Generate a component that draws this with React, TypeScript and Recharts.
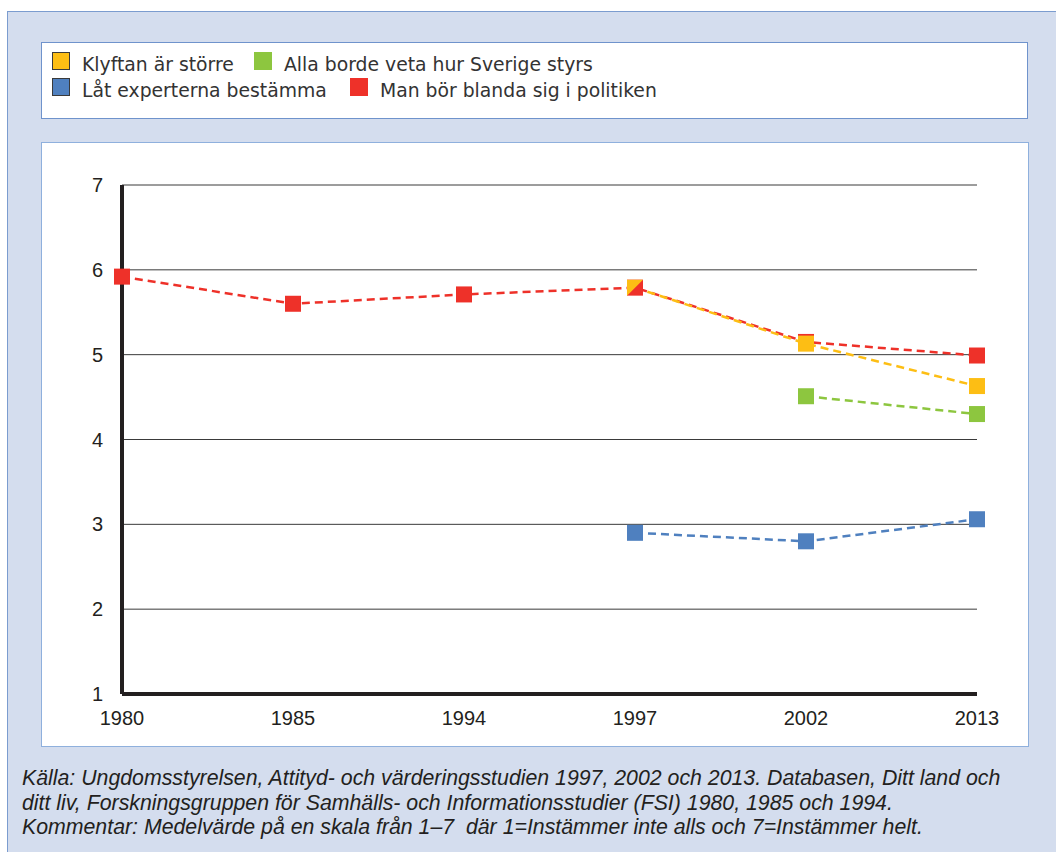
import { LineChart, Line, XAxis, YAxis, CartesianGrid } from "recharts";

const years = ["1980", "1985", "1994", "1997", "2002", "2013"];
const klyftan = [null, null, null, 5.79, 5.13, 4.63];
const allaBorde = [null, null, null, null, 4.51, 4.3];
const experterna = [null, null, null, 2.9, 2.8, 3.06];
const blanda = [5.92, 5.6, 5.71, 5.79, 5.15, 4.99];
const yTicks = [1, 2, 3, 4, 5, 6, 7];

const YELLOW = "#fdbe14";
const GREEN = "#8dc63f";
const BLUE = "#4f80bf";
const RED = "#ee3129";
const INK = "#231f20";

const data = years.map((year, i) => ({
  year,
  klyftan: klyftan[i],
  alla: allaBorde[i],
  experterna: experterna[i],
  blanda: blanda[i],
}));

const SQ = 16;

// square marker; at index `halfAt` only the upper-left triangle is drawn
const squareDot = (color: string, halfAt?: number) => (props: any) => {
  const { cx, cy, index, value } = props;
  if (cx == null || cy == null || value == null) return <g key={`d${index}`} />;
  const h = SQ / 2;
  if (index === halfAt) {
    return (
      <polygon
        key={`d${index}`}
        points={`${cx - h},${cy - h} ${cx + h},${cy - h} ${cx - h},${cy + h}`}
        fill={color}
      />
    );
  }
  return <rect key={`d${index}`} x={cx - h} y={cy - h} width={SQ} height={SQ} fill={color} />;
};

const legendItems = [
  { label: "Klyftan är större", color: YELLOW, border: true, x: 52, y: 52 },
  { label: "Alla borde veta hur Sverige styrs", color: GREEN, border: false, x: 254, y: 52 },
  { label: "Låt experterna bestämma", color: BLUE, border: true, x: 52, y: 78 },
  { label: "Man bör blanda sig i politiken", color: RED, border: false, x: 350, y: 78 },
];

const captionLines = [
  "Källa: Ungdomsstyrelsen, Attityd- och värderingsstudien 1997, 2002 och 2013. Databasen, Ditt land och",
  "ditt liv, Forskningsgruppen för Samhälls- och Informationsstudier (FSI) 1980, 1985 och 1994.",
  "Kommentar: Medelvärde på en skala från 1–7  där 1=Instämmer inte alls och 7=Instämmer helt.",
];

const tickStyle = { fill: INK, fontSize: 20, fontFamily: "'Liberation Sans', Arial, sans-serif" };

export default function App() {
  return (
    <div style={{ position: "absolute", left: 0, top: 0, width: 1056, height: 852, overflow: "hidden", background: "#fff" }}>
      <div
        style={{
          position: "absolute", left: 7, top: 11, width: 1080, height: 900,
          background: "#d4ddee", border: "1px solid #7b9ccf",
        }}
      />
      {/* legend box */}
      <div
        style={{
          position: "absolute", left: 41, top: 42, width: 985, height: 75,
          background: "#fff", border: "1px solid #6f93cc",
        }}
      />
      {legendItems.map((it) => (
        <div key={it.label}>
          <div
            style={{
              position: "absolute", left: it.x, top: it.y, width: 18, height: 18,
              background: it.color, boxSizing: "border-box",
              border: it.border ? "1px solid #3a3a3a" : "none",
            }}
          />
          <div
            style={{
              position: "absolute", left: it.x + 30, top: it.y + 1, lineHeight: "24px",
              fontFamily: "'DejaVu Sans', Verdana, sans-serif", fontSize: 18.8, color: "#333", whiteSpace: "nowrap",
            }}
          >
            {it.label}
          </div>
        </div>
      ))}
      {/* chart box */}
      <div
        style={{
          position: "absolute", left: 41, top: 142, width: 986, height: 603,
          background: "#fff", border: "1px solid #8fb0dd",
        }}
      />
      <div style={{ position: "absolute", left: 41, top: 142 }}>
        <LineChart width={988} height={605} data={data} margin={{ top: 43, right: 52, left: 0, bottom: 0 }}>
          <CartesianGrid vertical={false} stroke="#3a3a3a" strokeWidth={1} />
          <XAxis
            dataKey="year"
            height={53}
            tickSize={0}
            tickMargin={17}
            tick={tickStyle}
            axisLine={{ stroke: INK, strokeWidth: 4 }}
          />
          <YAxis
            width={81}
            domain={[1, 7]}
            ticks={yTicks}
            interval={0}
            tickSize={0}
            tickMargin={19}
            tick={tickStyle}
            axisLine={{ stroke: INK, strokeWidth: 4 }}
          />
          <Line dataKey="experterna" stroke={BLUE} strokeWidth={2.5} strokeDasharray="8 5" dot={squareDot(BLUE)} activeDot={false} isAnimationActive={false} />
          <Line dataKey="alla" stroke={GREEN} strokeWidth={2.5} strokeDasharray="8 5" dot={squareDot(GREEN)} activeDot={false} isAnimationActive={false} />
          <Line dataKey="blanda" stroke={RED} strokeWidth={2.5} strokeDasharray="8 5" dot={squareDot(RED)} activeDot={false} isAnimationActive={false} />
          <Line dataKey="klyftan" stroke={YELLOW} strokeWidth={2.5} strokeDasharray="8 5" dot={squareDot(YELLOW, 3)} activeDot={false} isAnimationActive={false} />
        </LineChart>
      </div>
      {captionLines.map((line, i) => (
        <div
          key={i}
          style={{
            position: "absolute", left: 22, top: 766 + i * 24.5, lineHeight: "24px",
            fontFamily: "'Liberation Sans', Arial, sans-serif",
            fontStyle: "italic", fontSize: 21.3, color: INK, whiteSpace: "pre",
          }}
        >
          {line}
        </div>
      ))}
    </div>
  );
}
